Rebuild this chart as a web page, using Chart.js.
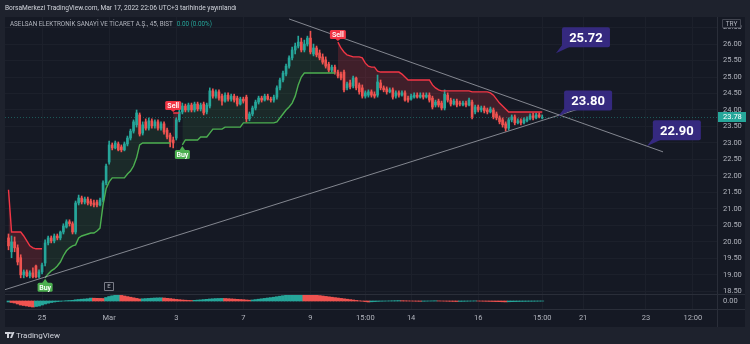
<!DOCTYPE html>
<html>
<head>
<meta charset="utf-8">
<script src="https://cdn.jsdelivr.net/npm/chart.js@4.4.1/dist/chart.umd.min.js"></script>
<style>
  html, body { margin: 0; padding: 0; background: #1e222d; }
  #wrap { width: 750px; height: 344px; }
</style>
</head>
<body>
<div id="wrap"><canvas id="chart" width="750" height="344"></canvas></div>
<script>
// ASELSAN 45m bars, Feb 24 – Mar 17 2022 (bar 0 = Feb 24 10:00)
const opens = [
  20.12, 19.70, 20.00, 19.82, 19.52, 19.00, 19.09, 18.97, 19.06, 19.27,
  18.94, 19.09, 19.36, 19.97, 20.12, 20.03, 20.18, 20.12, 20.30, 20.45,
  20.61, 20.55, 20.30, 21.18, 21.33, 21.21, 21.30, 21.24, 21.18, 21.21,
  21.12, 21.27, 21.79, 22.42, 22.94, 22.85, 22.97, 22.88, 22.79, 22.97,
  23.15, 23.36, 23.55, 23.85, 23.30, 23.64, 23.45, 23.67, 23.52, 23.64,
  23.45, 23.58, 23.39, 23.24, 23.09, 23.15, 23.70, 23.94, 24.12, 24.00,
  24.15, 24.00, 24.18, 24.03, 24.18, 23.94, 24.12, 24.58, 24.42, 24.55,
  24.42, 24.27, 24.45, 24.33, 24.42, 24.36, 24.18, 24.33, 24.39, 23.73,
  23.88, 24.06, 24.24, 24.36, 24.30, 24.42, 24.33, 24.30, 24.39, 24.67,
  24.91, 25.09, 25.33, 25.58, 25.82, 25.94, 26.06, 25.82, 26.00, 26.18,
  25.70, 25.88, 25.73, 25.61, 25.52, 25.39, 25.21, 25.30, 25.15, 25.09,
  25.15, 24.67, 24.82, 24.73, 24.97, 24.76, 24.67, 24.42, 24.45, 24.55,
  24.48, 24.45, 24.82, 24.67, 24.64, 24.55, 24.61, 24.42, 24.52, 24.45,
  24.52, 24.36, 24.33, 24.39, 24.45, 24.39, 24.45, 24.39, 24.45, 24.36,
  24.15, 24.27, 24.21, 24.06, 24.45, 24.30, 24.18, 24.27, 24.21, 24.15,
  24.21, 24.15, 24.24, 23.94, 24.09, 24.00, 24.06, 24.00, 23.94, 24.00,
  23.88, 23.76, 23.70, 23.58, 23.45, 23.70, 23.79, 23.61, 23.67, 23.61,
  23.67, 23.73, 23.82, 23.76, 23.85, 23.76
];
const highs = [
  20.24, 20.18, 20.15, 19.91, 19.61, 19.15, 19.15, 19.12, 19.21, 19.30,
  19.15, 19.36, 20.06, 20.18, 20.18, 20.24, 20.24, 20.33, 20.55, 20.67,
  20.67, 20.61, 21.24, 21.42, 21.39, 21.36, 21.36, 21.30, 21.27, 21.27,
  21.33, 21.85, 22.36, 23.06, 23.00, 23.06, 23.03, 22.94, 23.03, 23.21,
  23.42, 23.70, 24.00, 23.91, 23.64, 23.73, 23.76, 23.73, 23.70, 23.70,
  23.64, 23.64, 23.45, 23.30, 23.18, 23.76, 24.00, 24.21, 24.18, 24.21,
  24.21, 24.24, 24.24, 24.21, 24.24, 24.21, 24.67, 24.64, 24.61, 24.61,
  24.48, 24.52, 24.52, 24.48, 24.48, 24.42, 24.39, 24.39, 24.45, 23.94,
  24.12, 24.30, 24.42, 24.42, 24.48, 24.48, 24.39, 24.45, 24.73, 24.97,
  25.18, 25.39, 25.64, 25.91, 26.03, 26.24, 26.18, 26.12, 26.24, 26.39,
  26.00, 25.94, 25.82, 25.70, 25.61, 25.45, 25.36, 25.36, 25.21, 25.15,
  25.21, 24.85, 24.91, 25.03, 25.00, 24.82, 24.76, 24.58, 24.61, 24.61,
  24.55, 25.06, 24.91, 24.73, 24.70, 24.67, 24.67, 24.58, 24.58, 24.58,
  24.58, 24.42, 24.48, 24.52, 24.52, 24.52, 24.52, 24.52, 24.52, 24.42,
  24.30, 24.33, 24.27, 24.61, 24.52, 24.36, 24.33, 24.33, 24.27, 24.27,
  24.27, 24.36, 24.30, 24.15, 24.15, 24.12, 24.12, 24.06, 24.09, 24.06,
  23.94, 23.82, 23.76, 23.64, 23.76, 23.85, 23.85, 23.73, 23.73, 23.76,
  23.79, 23.88, 23.91, 23.91, 23.91, 23.85
];
const lows = [
  19.76, 19.52, 19.70, 19.30, 18.91, 18.91, 18.94, 18.91, 18.91, 18.91,
  18.91, 19.03, 19.27, 19.91, 19.97, 19.97, 20.06, 20.06, 20.24, 20.42,
  20.48, 20.24, 20.24, 21.12, 21.15, 21.15, 21.12, 21.09, 21.06, 21.06,
  21.09, 21.21, 21.73, 22.36, 22.79, 22.82, 22.76, 22.73, 22.76, 22.91,
  23.09, 23.30, 23.48, 23.21, 23.24, 23.39, 23.39, 23.45, 23.45, 23.39,
  23.39, 23.27, 23.12, 22.88, 22.85, 23.09, 23.64, 23.88, 23.94, 23.94,
  23.94, 23.94, 23.97, 23.97, 23.85, 23.88, 24.06, 24.36, 24.36, 24.30,
  24.15, 24.24, 24.27, 24.27, 24.24, 24.12, 24.15, 24.21, 23.64, 23.67,
  23.82, 24.00, 24.18, 24.24, 24.27, 24.30, 24.24, 24.24, 24.33, 24.61,
  24.85, 25.03, 25.27, 25.52, 25.70, 25.88, 25.76, 25.76, 25.94, 25.70,
  25.64, 25.61, 25.52, 25.39, 25.27, 25.15, 25.15, 25.09, 24.97, 24.91,
  24.55, 24.61, 24.64, 24.67, 24.61, 24.48, 24.36, 24.36, 24.39, 24.39,
  24.36, 24.39, 24.61, 24.55, 24.48, 24.52, 24.33, 24.36, 24.39, 24.42,
  24.27, 24.24, 24.30, 24.36, 24.36, 24.36, 24.33, 24.36, 24.24, 24.03,
  24.09, 24.09, 24.00, 24.00, 24.24, 24.12, 24.15, 24.09, 24.12, 24.12,
  24.09, 24.12, 23.73, 23.88, 23.94, 23.94, 23.91, 23.88, 23.91, 23.73,
  23.70, 23.58, 23.48, 23.36, 23.39, 23.64, 23.55, 23.58, 23.55, 23.58,
  23.64, 23.70, 23.70, 23.73, 23.76, 23.73
];
const closes = [
  19.88, 20.00, 19.82, 19.39, 19.00, 19.09, 18.97, 19.06, 18.94, 18.94,
  19.09, 19.30, 19.97, 20.12, 20.03, 20.18, 20.12, 20.30, 20.48, 20.61,
  20.55, 20.30, 21.18, 21.33, 21.21, 21.30, 21.18, 21.15, 21.12, 21.12,
  21.27, 21.79, 22.30, 22.94, 22.85, 23.00, 22.79, 22.79, 22.97, 23.15,
  23.36, 23.64, 23.91, 23.27, 23.55, 23.45, 23.67, 23.52, 23.64, 23.45,
  23.58, 23.33, 23.18, 23.03, 23.00, 23.70, 23.94, 24.12, 24.00, 24.15,
  24.00, 24.18, 24.03, 24.15, 23.91, 24.15, 24.58, 24.42, 24.55, 24.36,
  24.27, 24.45, 24.33, 24.42, 24.30, 24.18, 24.33, 24.27, 23.73, 23.88,
  24.06, 24.24, 24.36, 24.30, 24.42, 24.33, 24.30, 24.39, 24.67, 24.91,
  25.12, 25.33, 25.58, 25.82, 25.94, 26.06, 25.82, 26.00, 26.18, 25.76,
  25.88, 25.67, 25.58, 25.45, 25.33, 25.21, 25.30, 25.15, 25.03, 24.97,
  24.61, 24.79, 24.70, 24.97, 24.67, 24.55, 24.42, 24.52, 24.55, 24.45,
  24.42, 24.85, 24.67, 24.61, 24.55, 24.61, 24.39, 24.52, 24.45, 24.52,
  24.30, 24.30, 24.42, 24.45, 24.39, 24.45, 24.39, 24.45, 24.30, 24.09,
  24.24, 24.15, 24.06, 24.48, 24.30, 24.18, 24.27, 24.15, 24.18, 24.21,
  24.15, 24.30, 23.79, 24.09, 24.00, 24.06, 23.97, 23.94, 24.03, 23.79,
  23.76, 23.64, 23.55, 23.45, 23.70, 23.79, 23.61, 23.67, 23.61, 23.70,
  23.73, 23.82, 23.76, 23.85, 23.79, 23.78
];

// Supertrend level per bar
const supertrend = [
  21.58, 20.30, 20.30, 20.30, 20.30, 20.18, 20.03, 19.88, 19.82, 19.79,
  19.79, 19.79, 18.91, 19.03, 19.12, 19.18, 19.27, 19.39, 19.58, 19.73,
  19.82, 19.88, 19.91, 20.12, 20.18, 20.21, 20.24, 20.27, 20.27, 20.33,
  20.42, 21.12, 21.61, 21.82, 21.94, 21.94, 21.94, 21.94, 21.94, 22.06,
  22.15, 22.30, 22.55, 22.94, 23.00, 23.00, 23.00, 23.00, 23.00, 23.00,
  23.00, 23.00, 23.00, 23.00, 23.91, 23.91, 23.91, 22.94, 23.09, 23.09,
  23.09, 23.09, 23.09, 23.18, 23.18, 23.18, 23.30, 23.42, 23.42, 23.42,
  23.42, 23.48, 23.48, 23.48, 23.48, 23.48, 23.48, 23.61, 23.61, 23.61,
  23.61, 23.61, 23.61, 23.61, 23.61, 23.61, 23.61, 23.61, 23.64, 23.76,
  23.88, 24.00, 24.09, 24.21, 24.42, 24.76, 25.00, 25.12, 25.12, 25.12,
  25.12, 25.12, 25.12, 25.12, 25.12, 25.12, 25.12, 25.12, 26.06, 25.88,
  25.76, 25.67, 25.64, 25.61, 25.61, 25.61, 25.58, 25.42, 25.33, 25.30,
  25.30, 25.18, 25.15, 25.15, 25.15, 25.15, 25.15, 25.15, 25.15, 25.09,
  25.00, 24.91, 24.91, 24.91, 24.91, 24.91, 24.91, 24.91, 24.91, 24.76,
  24.67, 24.61, 24.58, 24.58, 24.58, 24.58, 24.58, 24.58, 24.58, 24.58,
  24.58, 24.58, 24.55, 24.55, 24.55, 24.55, 24.55, 24.55, 24.52, 24.45,
  24.33, 24.21, 24.12, 24.03, 23.94, 23.94, 23.94, 23.94, 23.94, 23.94,
  23.94, 23.94, 23.94, 23.94, 23.94, 23.94
];
const signalBars = [12, 54, 57, 108];
const signalKinds = ['Buy', 'Sell', 'Buy', 'Sell'];

// lower pane oscillator
const oscillator = [
  -1, -1.5, -2, -3, -4, -4.5, -5, -5.5, -6,
  -5.5, -5, -4, -3, -2.2, -1.5, -1, -0.6, -0.3,
  0, 0.3, 0.5, 0.7, 1.2, 1.5, 1.8, 2, 2.3, 2.9,
  2.8, 2.7, 2.6, 2.5,
  3.5, 4.5, 5.2, 5.8, 6,
  5.6, 5, 4.4, 3.8, 3.2, 2.6, 2.0,
  2.2, 2.4, 2.6, 2.8, 3.0, 3.1, 3.2,
  3.0, 2.7, 2.4, 2.0, 1.6, 1.3, 1.0, 0.8, 0.6, 0.5,
  0.7, 0.9, 1.1, 1.4, 1.7, 2.0, 2.2, 2.4, 2.5, 2.6,
  2.5, 2.3, 2.1, 1.9, 1.7, 1.5, 1.3, 1.0, 0.8,
  1.0, 1.4, 1.8, 2.2, 2.6, 3.0, 3.4, 3.8, 4.3, 4.8, 5.3, 5.8, 6.2, 6.6, 6.9, 7.1, 7.2,
  7.0, 6.8, 6.5, 6.2, 5.8, 5.4, 5.0, 4.6, 4.2, 3.8, 3.4, 3.0, 2.6, 2.2, 1.8, 1.4, 1.0, 0.6, 0.2, -0.2, -0.6, -1.0,
  -0.8, -0.6, -0.4, -0.2, -0.1, 0, 0.1, 0.2, 0.3, 0.4,
  0.3, 0.2, 0.1, 0, -0.1, -0.2, -0.3,
  -0.2, -0.1, 0, 0.1, 0.2,
  0.1, 0, -0.1, -0.2, -0.3, -0.4, -0.5,
  -0.4, -0.3, -0.2, -0.1, 0, 0.1,
  0, -0.1, -0.2, -0.3, -0.4, -0.5, -0.6, -0.7, -0.8, -0.9,
  -0.8, -0.7, -0.6, -0.5, -0.4, -0.35, -0.3, -0.25, -0.2, -0.15, -0.1, -0.05
];

// drawn trend lines (bar index, price)
const trendUpper = [{ x: 92.0, y: 26.76 }, { x: 214.6, y: 22.73 }];
const trendLower = [{ x: -1.2, y: 18.55 }, { x: 197.2, y: 24.33 }];

// price callouts
const calloutBars = [179.5, 180.2, 209.3];
const calloutPrices = [25.72, 23.80, 22.90];

const dateTicks = [11, 33, 55, 77, 99, 117, 132, 154, 175, 188.4, 209, 224.4];
const dateLabels = ['25', 'Mar', '3', '7', '9', '15:00', '14', '16', '15:00', '21', '23', '12:00'];
const earningsBar = 33;

const UP = '#26a69a';
const DOWN = '#ef5350';
const FONT = 'Roboto';

Chart.defaults.font.family = FONT;
Chart.defaults.color = '#b2b5be';

// trend direction follows the buy / sell signals
const trendDir = opens.map((_, i) => {
  let dir = -1;
  signalBars.forEach((b, k) => { if (i >= b) dir = signalKinds[k] === 'Buy' ? 1 : -1; });
  return dir;
});
const stUp = supertrend.map((v, i) => ({ x: i, y: trendDir[i] === 1 ? v : null }));
const stDown = supertrend.map((v, i) => ({ x: i, y: trendDir[i] === -1 ? v : null }));
const bodyMid = opens.map((o, i) => ({ x: i, y: (o + closes[i]) / 2 }));
const candleColors = opens.map((o, i) => closes[i] >= o ? UP : DOWN);
const oscColors = oscillator.map((v, i) => (i === 0 || v >= oscillator[i - 1]) ? UP : DOWN);

const decor = {
  id: 'decor',
  beforeDraw(chart) {
    const { ctx } = chart;
    ctx.save();
    ctx.fillStyle = '#1e222d';
    ctx.fillRect(0, 0, 750, 344);
    ctx.fillStyle = '#151924';
    ctx.fillRect(5, 17, 740, 310);
    ctx.restore();
  },
  beforeDatasetsDraw(chart) {
    const { ctx, chartArea, scales } = chart;
    const y = scales.y;
    const last = closes[closes.length - 1];
    ctx.save();
    ctx.strokeStyle = 'rgba(38,166,154,0.45)';
    ctx.setLineDash([1, 2]);
    ctx.lineWidth = 1;
    const ly = Math.round(y.getPixelForValue(last)) + 0.5;
    ctx.beginPath();
    ctx.moveTo(chartArea.left, ly);
    ctx.lineTo(chartArea.right, ly);
    ctx.stroke();
    ctx.restore();
  },
  afterDraw(chart) {
    const { ctx, chartArea, scales } = chart;
    const x = scales.x, y = scales.y, yh = scales.yh;
    ctx.save();

    // pane borders
    ctx.strokeStyle = '#2a2e39';
    ctx.lineWidth = 1;
    ctx.beginPath();
    ctx.moveTo(5, Math.round(yh.top) + 0.5); ctx.lineTo(745, Math.round(yh.top) + 0.5);
    ctx.moveTo(5, chartArea.bottom + 0.5); ctx.lineTo(745, chartArea.bottom + 0.5);
    ctx.moveTo(chartArea.right + 0.5, 17); ctx.lineTo(chartArea.right + 0.5, 327);
    ctx.stroke();

    // buy / sell markers
    signalBars.forEach((b, k) => {
      const kind = signalKinds[k];
      const px = x.getPixelForValue(b);
      const py = y.getPixelForValue(supertrend[b]);
      const w = kind === 'Buy' ? 15 : 16, h = 9;
      ctx.fillStyle = kind === 'Buy' ? '#4caf50' : '#f23645';
      let top;
      ctx.beginPath();
      if (kind === 'Buy') {
        top = py + 5;
        ctx.moveTo(px, py + 1); ctx.lineTo(px + 3, top + 0.5); ctx.lineTo(px - 3, top + 0.5);
      } else {
        top = py - 3 - h;
        ctx.moveTo(px, py - 1); ctx.lineTo(px + 3, top + h - 0.5); ctx.lineTo(px - 3, top + h - 0.5);
      }
      ctx.closePath(); ctx.fill();
      ctx.beginPath(); ctx.roundRect(px - w / 2, top, w, h, 1.5); ctx.fill();
      ctx.fillStyle = '#ffffff';
      ctx.font = '600 7px ' + FONT;
      ctx.textAlign = 'center'; ctx.textBaseline = 'middle';
      ctx.fillText(kind, px, top + h / 2 + 0.5);
    });

    // earnings marker
    const ex = x.getPixelForValue(earningsBar);
    ctx.strokeStyle = '#787b86';
    ctx.fillStyle = '#151924';
    ctx.beginPath(); ctx.rect(Math.round(ex - 5) + 0.5, Math.round(y.bottom - 12) + 0.5, 9, 8); ctx.fill(); ctx.stroke();
    ctx.fillStyle = '#b2b5be';
    ctx.font = '6px ' + FONT;
    ctx.textAlign = 'center'; ctx.textBaseline = 'middle';
    ctx.fillText('E', Math.round(ex - 5) + 5, Math.round(y.bottom - 12) + 4.8);

    // price callouts
    calloutPrices.forEach((p, k) => {
      const ax = x.getPixelForValue(calloutBars[k]);
      const ay = y.getPixelForValue(p);
      const bx = ax + 6, by = ay - 26, bw = 48, bh = 20;
      ctx.fillStyle = '#35297f';
      ctx.beginPath();
      ctx.moveTo(ax, ay); ctx.lineTo(bx, by + bh - 2); ctx.lineTo(bx + 9, by + bh - 1);
      ctx.closePath(); ctx.fill();
      ctx.beginPath(); ctx.roundRect(bx, by, bw, bh, 2); ctx.fill();
      ctx.fillStyle = '#ffffff';
      ctx.font = 'bold 13px ' + FONT;
      ctx.textAlign = 'center'; ctx.textBaseline = 'middle';
      ctx.fillText(p.toFixed(2), bx + bw / 2, by + bh / 2 + 1);
    });

    // last price tag
    const last = closes[closes.length - 1];
    const ty = y.getPixelForValue(last);
    ctx.fillStyle = UP;
    ctx.fillRect(chartArea.right + 1, Math.round(ty) - 5, 28, 10);
    ctx.fillStyle = '#ffffff';
    ctx.font = '7.5px ' + FONT;
    ctx.textAlign = 'left'; ctx.textBaseline = 'middle';
    ctx.fillText(last.toFixed(2), chartArea.right + 6, Math.round(ty) + 0.5);

    // currency box
    ctx.fillStyle = '#151924';
    ctx.strokeStyle = '#434651';
    ctx.beginPath(); ctx.rect(722.5, 19.5, 18, 8); ctx.fill(); ctx.stroke();
    ctx.fillStyle = '#b2b5be';
    ctx.font = '6.5px ' + FONT;
    ctx.textAlign = 'center';
    ctx.fillText('TRY', 731.5, 24);

    // symbol line
    ctx.textAlign = 'left';
    ctx.font = '6.3px ' + FONT;
    ctx.fillStyle = '#b2b5be';
    const title = 'ASELSAN ELEKTRONİK SANAYİ VE TİCARET A.Ş., 45, BIST';
    ctx.fillText(title, 10, 24.5);
    ctx.fillStyle = UP;
    ctx.fillText('0.00 (0.00%)', 10 + ctx.measureText(title).width + 4, 24.5);

    // header
    ctx.fillStyle = '#d1d4dc';
    ctx.font = '6.6px ' + FONT;
    ctx.fillText('BorsaMerkezi TradingView.com, Mar 17, 2022 22:06 UTC+3 tarihinde yayınlandı', 5, 8.5);

    // footer logo
    ctx.fillStyle = '#d1d4dc';
    ctx.fillRect(5, 332, 5, 2);
    ctx.fillRect(7, 332, 2, 6);
    ctx.beginPath(); ctx.arc(11, 333, 1.1, 0, Math.PI * 2); ctx.fill();
    ctx.beginPath();
    ctx.moveTo(12.5, 332); ctx.lineTo(14.5, 332); ctx.lineTo(12, 338); ctx.lineTo(10, 338);
    ctx.closePath(); ctx.fill();
    ctx.font = '8px ' + FONT;
    ctx.fillText('TradingView', 16, 335.5);

    ctx.restore();
  }
};

new Chart(document.getElementById('chart'), {
  type: 'bar',
  data: {
    datasets: [
      {
        type: 'line', data: bodyMid, borderColor: 'transparent', borderWidth: 0,
        pointRadius: 0, order: 9
      },
      {
        type: 'line', data: stUp, borderColor: '#4caf50', borderWidth: 1.4, pointRadius: 0,
        spanGaps: false, order: 1,
        fill: { target: 0, above: 'rgba(76,175,80,0.12)', below: 'rgba(76,175,80,0.12)' }
      },
      {
        type: 'line', data: stDown, borderColor: '#f23645', borderWidth: 1.4, pointRadius: 0,
        spanGaps: false, order: 1,
        fill: { target: 0, above: 'rgba(242,54,69,0.2)', below: 'rgba(242,54,69,0.2)' }
      },
      {
        type: 'line', data: trendUpper, borderColor: 'rgba(178,181,190,0.7)', borderWidth: 1,
        pointRadius: 0, order: 0
      },
      {
        type: 'line', data: trendLower, borderColor: 'rgba(178,181,190,0.7)', borderWidth: 1,
        pointRadius: 0, order: 0
      },
      {
        data: opens.map((_, i) => ({ x: i, y: [lows[i], highs[i]] })),
        backgroundColor: candleColors, barThickness: 1, grouped: false, order: 3
      },
      {
        data: opens.map((o, i) => ({ x: i, y: [o, closes[i]] })),
        backgroundColor: candleColors, barThickness: 2, grouped: false, order: 2
      },
      {
        data: oscillator.map((v, i) => ({ x: i, y: v })),
        yAxisID: 'yh', backgroundColor: oscColors,
        barPercentage: 1, categoryPercentage: 1, grouped: false, order: 4
      }
    ]
  },
  options: {
    responsive: false,
    devicePixelRatio: 1,
    animation: false,
    events: [],
    layout: { padding: { left: 5, right: 5, top: 17, bottom: 17 } },
    plugins: {
      legend: { display: false },
      tooltip: { enabled: false },
      filler: { drawTime: 'beforeDatasetsDraw' }
    },
    scales: {
      x: {
        type: 'linear', min: -1.15, max: 232.3, offset: false,
        grid: { color: '#1c202b', offset: false, drawTicks: false },
        border: { display: false },
        afterBuildTicks: (s) => { s.ticks = dateTicks.map(v => ({ value: v })); },
        afterFit: (s) => { s.height = 18; },
        ticks: {
          autoSkip: false, maxRotation: 0, padding: 5, color: '#b2b5be', font: { size: 7.5 },
          callback: (v, i) => dateLabels[i]
        }
      },
      y: {
        type: 'linear', position: 'right', stack: 'panes', stackWeight: 277,
        min: 18.42, max: 26.82,
        grid: { color: '#1c202b', drawTicks: false },
        border: { color: '#2a2e39' },
        afterFit: (s) => { s.width = 28; },
        ticks: {
          stepSize: 0.5, includeBounds: false, autoSkip: false, padding: 6, color: '#b2b5be',
          font: { size: 7.5 }, callback: (v) => v.toFixed(2)
        }
      },
      yh: {
        type: 'linear', position: 'right', stack: 'panes', stackWeight: 15,
        min: -8, max: 7, offset: false,
        grid: { display: false, drawTicks: false },
        border: { color: '#2a2e39' },
        afterFit: (s) => { s.width = 28; },
        afterBuildTicks: (s) => { s.ticks = [{ value: 0 }]; },
        ticks: { padding: 6, color: '#b2b5be', font: { size: 7.5 }, callback: () => '0.00' }
      }
    }
  },
  plugins: [decor]
});
</script>
</body>
</html>
